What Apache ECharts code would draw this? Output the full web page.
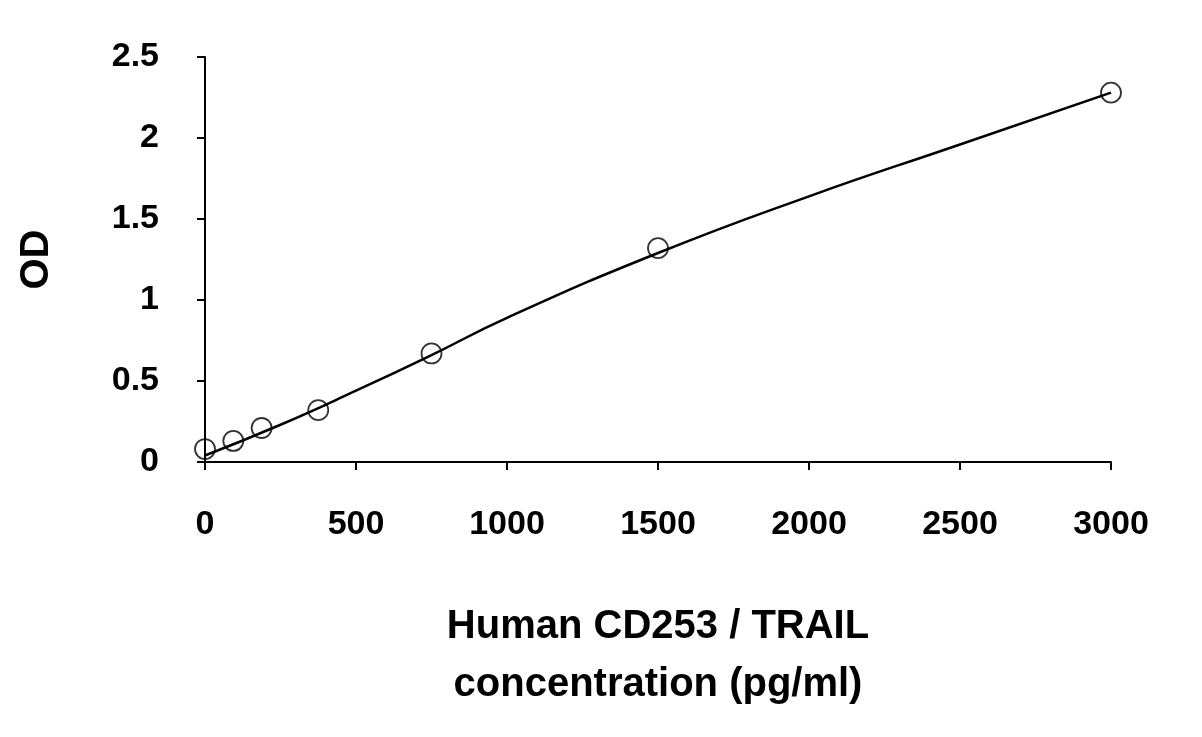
<!DOCTYPE html>
<html><head><meta charset="utf-8">
<script src="https://cdn.jsdelivr.net/npm/echarts@6/dist/echarts.min.js"></script>
<style>html,body{margin:0;background:#fff}#c{width:1202px;height:737px}</style>
</head><body><div id="c"></div>
<script>
const conc = [0, 93.75, 187.5, 375, 750, 1500, 3000];
const od = [0.08, 0.13, 0.21, 0.32, 0.67, 1.32, 2.28];
const fitX = [0, 250, 500, 750, 1000, 1500, 2000, 2500, 3000];
const fitY = [0.04, 0.23, 0.44, 0.66, 0.89, 1.29, 1.64, 1.96, 2.28];
const xTicks = [0, 500, 1000, 1500, 2000, 2500, 3000];
const yTicks = [0, 0.5, 1, 1.5, 2, 2.5];
const font = 'Liberation Sans';
const chart = echarts.init(document.getElementById('c'));
chart.setOption({
  animation: false,
  grid: {left: 205, right: 91, top: 57, bottom: 275},
  xAxis: {type: 'value', min: 0, max: 3000, interval: 500,
    name: 'Human CD253 / TRAIL\nconcentration (pg/ml)', nameLocation: 'middle', nameGap: 136,
    nameTextStyle: {fontFamily: font, fontWeight: 'bold', fontSize: 40, color: '#000', lineHeight: 58},
    axisLine: {lineStyle: {color: '#000', width: 2}},
    axisTick: {show: true, length: 8, lineStyle: {color: '#000', width: 2}},
    axisLabel: {fontFamily: font, fontWeight: 'bold', fontSize: 34, color: '#000', margin: 46,
      formatter: v => xTicks.includes(v) ? String(v) : ''},
    splitLine: {show: false}},
  yAxis: {type: 'value', min: 0, max: 2.5, interval: 0.5,
    name: 'OD', nameLocation: 'middle', nameGap: 148, nameRotate: 90,
    nameTextStyle: {fontFamily: font, fontWeight: 'bold', fontSize: 40, color: '#000'},
    axisLine: {show: true, lineStyle: {color: '#000', width: 2}},
    axisTick: {show: true, length: 8, lineStyle: {color: '#000', width: 2}},
    axisLabel: {fontFamily: font, fontWeight: 'bold', fontSize: 34, color: '#000', margin: 46,
      formatter: v => yTicks.includes(v) ? String(v) : ''},
    splitLine: {show: false}},
  series: [
    {type: 'line', data: fitX.map((x, i) => [x, fitY[i]]), smooth: true, showSymbol: false,
      lineStyle: {color: '#000', width: 2.5}, z: 2},
    {type: 'scatter', data: conc.map((x, i) => [x, od[i]]), symbol: 'circle', symbolSize: 20,
      itemStyle: {color: 'rgba(255,255,255,0)', borderColor: '#000', borderWidth: 1.8}, z: 3}
  ]
});
</script></body></html>
